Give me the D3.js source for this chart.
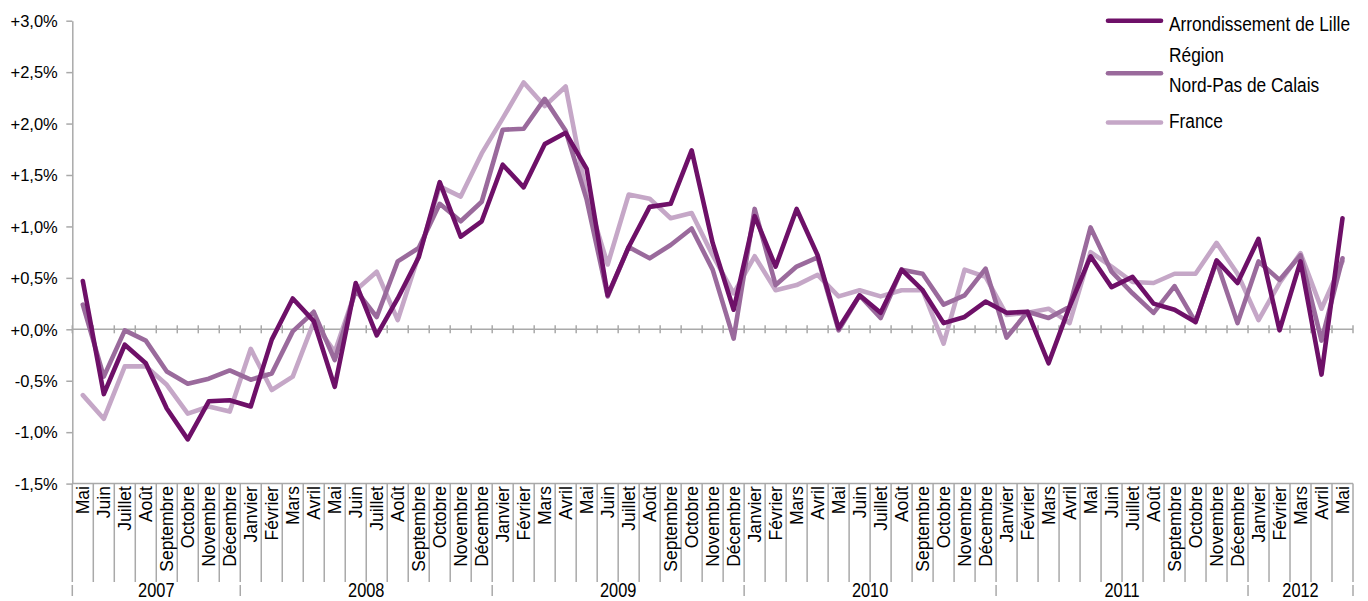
<!DOCTYPE html>
<html>
<head>
<meta charset="utf-8">
<script src="https://d3js.org/d3.v7.min.js"></script>
<style>
  body { margin: 0; background: #fff; }
  svg text { font-family: "Liberation Sans", Arial, sans-serif; fill: #000; }
</style>
</head>
<body>
<svg width="1368" height="601"></svg>
<script>
// month labels, May 2007 to May 2012
var months = ["Mai","Juin","Juillet","Août","Septembre","Octobre","Novembre","Décembre",
  "Janvier","Février","Mars","Avril","Mai","Juin","Juillet","Août","Septembre","Octobre","Novembre","Décembre",
  "Janvier","Février","Mars","Avril","Mai","Juin","Juillet","Août","Septembre","Octobre","Novembre","Décembre",
  "Janvier","Février","Mars","Avril","Mai","Juin","Juillet","Août","Septembre","Octobre","Novembre","Décembre",
  "Janvier","Février","Mars","Avril","Mai","Juin","Juillet","Août","Septembre","Octobre","Novembre","Décembre",
  "Janvier","Février","Mars","Avril","Mai"];
var years = ["2007","2008","2009","2010","2011","2012"];
var yearCounts = [8,12,12,12,12,5];

var lille = [0.47,-0.63,-0.15,-0.33,-0.77,-1.07,-0.70,-0.69,
  -0.75,-0.10,0.30,0.08,-0.56,0.45,-0.06,0.30,0.70,1.43,0.90,1.05,
  1.60,1.38,1.80,1.91,1.56,0.33,0.80,1.19,1.22,1.74,0.84,0.19,
  1.10,0.61,1.17,0.72,0.01,0.33,0.16,0.58,0.38,0.06,0.12,0.27,
  0.16,0.17,-0.33,0.22,0.71,0.41,0.51,0.25,0.19,0.07,0.67,0.45,
  0.88,-0.01,0.66,-0.44,1.08];
var region = [0.24,-0.46,-0.01,-0.11,-0.41,-0.53,-0.48,-0.40,
  -0.49,-0.43,-0.02,0.17,-0.30,0.38,0.12,0.66,0.79,1.22,1.05,1.24,
  1.94,1.95,2.24,1.93,1.26,0.32,0.80,0.69,0.82,0.98,0.58,-0.09,
  1.17,0.43,0.61,0.70,-0.01,0.33,0.11,0.58,0.54,0.24,0.33,0.59,
  -0.08,0.17,0.11,0.22,0.99,0.56,0.35,0.16,0.42,0.07,0.66,0.06,
  0.66,0.48,0.72,-0.11,0.69];
var france = [-0.64,-0.87,-0.36,-0.36,-0.54,-0.82,-0.75,-0.80,
  -0.19,-0.59,-0.46,0.07,-0.22,0.38,0.56,0.09,0.72,1.39,1.29,1.71,
  2.05,2.40,2.17,2.36,1.30,0.63,1.31,1.27,1.08,1.13,0.72,0.35,
  0.71,0.38,0.43,0.53,0.32,0.38,0.32,0.38,0.38,-0.14,0.58,0.51,
  0.14,0.16,0.20,0.06,0.75,0.61,0.46,0.45,0.54,0.54,0.84,0.54,
  0.09,0.45,0.74,0.20,0.66];
var yTicks = [-1.5,-1,-0.5,0,0.5,1,1.5,2,2.5,3];

var seriesNames = [["Arrondissement de Lille"], ["Région","Nord-Pas de Calais"], ["France"]];
var seriesColors = ["#6e1068", "#9a6a9c", "#c5a7c7"];
var seriesData = [lille, region, france];

var svg = d3.select("svg");
var plotLeft = 72.3, plotRight = 1353, plotTop = 20.7, plotBottom = 483.6;
var grey = "#a9a9a9";

var x = d3.scaleBand().domain(d3.range(months.length)).range([plotLeft, plotRight]).paddingInner(0).paddingOuter(0);
var y = d3.scaleLinear().domain([-1.5, 3]).range([plotBottom, plotTop]);
var bw = x.bandwidth();

// y axis
var yAxis = svg.append("g").attr("transform", "translate(" + plotLeft + ",0)")
  .call(d3.axisLeft(y).tickValues(yTicks).tickSizeInner(6).tickSizeOuter(0).tickPadding(8.5)
    .tickFormat(function(d){ return (d >= 0 ? "+" : "") + d.toFixed(1).replace(".", ",") + "%"; }));
yAxis.select(".domain").attr("stroke", grey).attr("stroke-width", 1.5);
yAxis.selectAll(".tick line").attr("stroke", grey).attr("stroke-width", 1.5);
yAxis.selectAll(".tick text").style("font-size", "16.5px").attr("fill", "#000").attr("dy", "0.35em");

// zero line with category ticks
svg.append("line").attr("x1", plotLeft).attr("x2", plotRight).attr("y1", y(0)).attr("y2", y(0))
  .attr("stroke", grey).attr("stroke-width", 1.5);
svg.append("g").selectAll("line").data(d3.range(months.length + 1)).enter().append("line")
  .attr("x1", function(i){ return plotLeft + i * bw; }).attr("x2", function(i){ return plotLeft + i * bw; })
  .attr("y1", y(0) - 4).attr("y2", y(0) + 4)
  .attr("stroke", grey).attr("stroke-width", 1.5);

// category label box
svg.append("line").attr("x1", plotLeft).attr("x2", plotRight).attr("y1", plotBottom).attr("y2", plotBottom)
  .attr("stroke", grey).attr("stroke-width", 1.5);
svg.append("g").selectAll("line").data(d3.range(months.length + 1)).enter().append("line")
  .attr("x1", function(i){ return plotLeft + i * bw; }).attr("x2", function(i){ return plotLeft + i * bw; })
  .attr("y1", plotBottom).attr("y2", 582)
  .attr("stroke", grey).attr("stroke-width", 1.5);

svg.append("g").selectAll("text").data(months).enter().append("text")
  .attr("transform", function(d, i){ return "translate(" + (x(i) + bw / 2) + "," + (plotBottom + 2.5) + ") rotate(-90)"; })
  .attr("text-anchor", "end").attr("dy", "0.35em")
  .style("font-size", "17.5px")
  .text(function(d){ return d; });

// years
var starts = [0];
yearCounts.forEach(function(c, k){ starts.push(starts[k] + c); });
svg.append("g").selectAll("line").data(starts).enter().append("line")
  .attr("x1", function(s){ return plotLeft + s * bw; }).attr("x2", function(s){ return plotLeft + s * bw; })
  .attr("y1", 585).attr("y2", 596)
  .attr("stroke", grey).attr("stroke-width", 1.5);
svg.append("g").selectAll("text").data(years).enter().append("text")
  .attr("transform", function(d, k){
    var cx = plotLeft + (starts[k] + yearCounts[k] / 2) * bw;
    return "translate(" + cx + ",597) scale(0.78,1)";
  })
  .attr("text-anchor", "middle")
  .style("font-size", "21px")
  .text(function(d){ return d; });

// lines
var line = d3.line().x(function(d, i){ return x(i) + bw / 2; }).y(function(d){ return y(d); });
[2, 1, 0].forEach(function(k){
  svg.append("path").datum(seriesData[k])
    .attr("d", line)
    .attr("fill", "none")
    .attr("stroke", seriesColors[k])
    .attr("stroke-width", 4.6)
    .attr("stroke-linejoin", "round")
    .attr("stroke-linecap", "round");
});

// legend
var legendY = [20.7, 73.3, 122.5];
var legendBase = [[30.8], [62, 91.5], [128.2]];
seriesNames.forEach(function(names, k){
  svg.append("line").attr("x1", 1108).attr("x2", 1161).attr("y1", legendY[k]).attr("y2", legendY[k])
    .attr("stroke", seriesColors[k]).attr("stroke-width", 4.6).attr("stroke-linecap", "round");
  names.forEach(function(n, j){
    svg.append("text")
      .attr("transform", "translate(1169," + legendBase[k][j] + ") scale(0.825,1)")
      .style("font-size", "21px")
      .text(n);
  });
});
</script>
</body>
</html>
